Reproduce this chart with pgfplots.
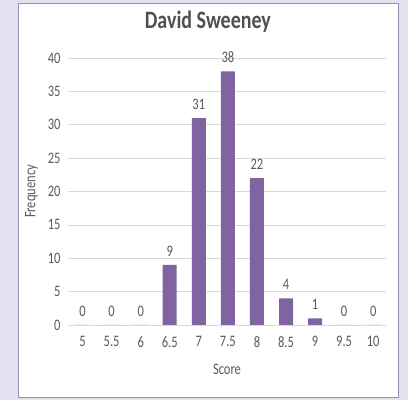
\documentclass[border=0pt]{standalone}
\usepackage{fontspec}
\setmainfont{Carlito}[FakeStretch=0.78]
\newfontfamily\titlefont{Carlito}[FakeStretch=0.8]
\usepackage{pgfplots}
\pgfplotsset{compat=1.18}

\definecolor{bgband}{HTML}{E3E1F0}
\definecolor{boxline}{HTML}{8C95B8}
\definecolor{barpurple}{HTML}{8064A2}
\definecolor{gridgray}{HTML}{D9D9D9}
\definecolor{txtgray}{HTML}{595959}

\begin{document}
\begin{tikzpicture}[x=1pt,y=1pt]
% page background and chart area
\fill[bgband] (0,0) rectangle (408,400);
\filldraw[fill=white, draw=boxline, line width=0.8pt] (18,3) rectangle (398,397);

\begin{axis}[
  at={(68pt,75pt)}, anchor=south west,
  scale only axis,
  width=318pt, height=267pt,
  ybar, bar width=14pt,
  xmin=4.75, xmax=10.22,
  ymin=0, ymax=40,
  xtick={5,5.5,...,10},
  xticklabels={5,5.5,6,6.5,7,7.5,8,8.5,9,9.5,10},
  ytick={0,5,...,40},
  ymajorgrids,
  grid style={gridgray, line width=0.7pt},
  axis line style={draw=none},
  major tick length=0pt,
  tick label style={font=\fontsize{16}{18}\selectfont, text=txtgray},
  /pgf/number format/assume math mode=true,
  yticklabel style={xshift=-4pt},
  xticklabel style={yshift=-8pt},
  title={David Sweeney},
  title style={font=\titlefont\bfseries\fontsize{25}{28}\selectfont, text=txtgray!90!black,
    at={(axis description cs:0.44,1.115)}, anchor=center},
  xlabel={Score},
  xlabel style={font=\fontsize{16}{18}\selectfont, text=txtgray,
    at={(axis description cs:0.5,-0.165)}, anchor=center},
  ylabel={Frequency},
  ylabel style={font=\fontsize{16}{18}\selectfont, text=txtgray,
    at={(axis description cs:-0.115,0.5)}, anchor=center, rotate=0},
  nodes near coords,
  every node near coord/.append style={font=\fontsize{16}{18}\selectfont, text=txtgray, yshift=5pt},
]
\addplot[fill=barpurple, draw=none] coordinates {
(5,0) (5.5,0) (6,0) (6.5,9) (7,31) (7.5,38) (8,22) (8.5,4) (9,1) (9.5,0) (10,0)
};
\end{axis}
\end{tikzpicture}
\end{document}
